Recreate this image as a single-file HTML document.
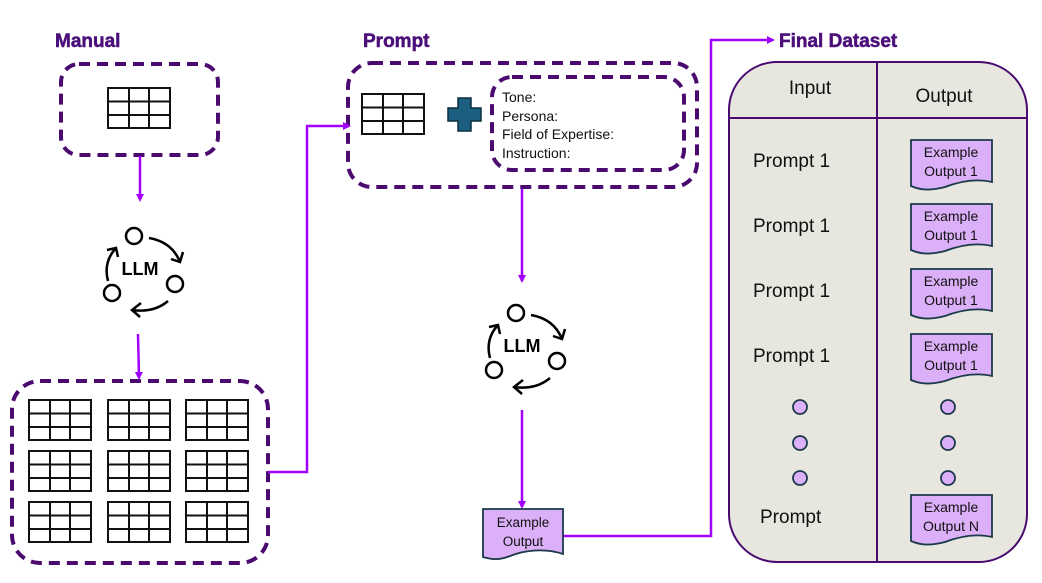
<!DOCTYPE html>
<html><head><meta charset="utf-8"><style>
html,body{margin:0;padding:0;background:#fff;}
svg{display:block;font-family:"Liberation Sans",sans-serif;}
</style></head><body>
<svg width="1042" height="583" viewBox="0 0 1042 583" xmlns="http://www.w3.org/2000/svg">
<defs>
<marker id="ah" markerWidth="8" markerHeight="8" refX="6" refY="4" orient="auto" markerUnits="userSpaceOnUse">
<path d="M0,0 L8,4 L0,8 Z" fill="#a100ff"/></marker>
<g id="tbl" fill="none" stroke="#111" stroke-width="2">
<rect x="0" y="0" width="62" height="40" fill="#fff"/>
<line x1="21" y1="0" x2="21" y2="40"/><line x1="41" y1="0" x2="41" y2="40"/>
<line x1="0" y1="13.5" x2="62" y2="13.5"/><line x1="0" y1="27" x2="62" y2="27"/>
</g>
<g id="llm" fill="none" stroke="#000" stroke-width="2.5">
<circle cx="-6" cy="-32" r="8"/><circle cx="35" cy="16" r="8"/><circle cx="-28" cy="25" r="8"/>
<path d="M9,-30 Q32,-26 40,-6"/><path d="M43,-16 L40,-6 L31,-9"/>
<path d="M28,33 Q14,45 -8,42"/><path d="M1,35 L-8,42 L0,49"/>
<path d="M-32,13 Q-37,-6 -24,-20"/><path d="M-33,-18 L-24,-20 L-22,-11"/>
<text x="0" y="7" text-anchor="middle" font-size="18" font-weight="bold" fill="#000" stroke="none">LLM</text>
</g>
</defs>

<g font-weight="bold" font-size="19" fill="#4b0f7a" stroke="#4b0f7a" stroke-width="0.5">
<text x="55" y="47">Manual</text>
<text x="363" y="47">Prompt</text>
<text x="779" y="47">Final Dataset</text>
</g>

<g fill="none" stroke="#4b0a70" stroke-width="4" stroke-dasharray="11,7">
<rect x="61" y="64" width="157" height="91" rx="18"/>
<rect x="12" y="381" width="256" height="182" rx="28"/>
<rect x="348" y="63" width="349" height="124" rx="24"/>
<rect x="492" y="77" width="192" height="93" rx="20"/>
</g>

<use href="#tbl" x="108" y="88"/>
<use href="#tbl" x="362" y="94"/>
<use href="#tbl" x="29" y="400"/><use href="#tbl" x="108" y="400"/><use href="#tbl" x="186" y="400"/>
<use href="#tbl" x="29" y="451"/><use href="#tbl" x="108" y="451"/><use href="#tbl" x="186" y="451"/>
<use href="#tbl" x="29" y="502"/><use href="#tbl" x="108" y="502"/><use href="#tbl" x="186" y="502"/>

<path d="M458,98 h13 v10 h10 v13 h-10 v10 h-13 v-10 h-10 v-13 h10 Z" fill="#1b5e80" stroke="#0d2f40" stroke-width="1.5"/>

<g font-size="14" fill="#111">
<text x="502" y="102">Tone:</text>
<text x="502" y="121">Persona:</text>
<text x="502" y="139">Field of Expertise:</text>
<text x="502" y="158">Instruction:</text>
</g>

<use href="#llm" x="140" y="268"/>
<use href="#llm" x="522" y="345"/>

<g fill="none" stroke="#a100ff" stroke-width="2.5">
<line x1="140" y1="156" x2="140" y2="200" marker-end="url(#ah)"/>
<line x1="138" y1="334" x2="139" y2="378" marker-end="url(#ah)"/>
<polyline points="268,472 307,472 307,126 349,126" marker-end="url(#ah)"/>
<line x1="522" y1="189" x2="522" y2="281" marker-end="url(#ah)"/>
<line x1="522" y1="410" x2="522" y2="507" marker-end="url(#ah)"/>
<polyline points="563,536 711,536 711,40 773,40" marker-end="url(#ah)"/>
</g>

<path d="M483,509 H563 V554 C545,548 525,550 510,556 C498,561 490,559 483,557 Z" fill="#dcb0f8" stroke="#1a3a4a" stroke-width="1.8"/>
<text x="523" y="527" text-anchor="middle" font-size="13.5" fill="#111">Example</text>
<text x="523" y="546" text-anchor="middle" font-size="13.5" fill="#111">Output</text>

<rect x="729" y="62" width="298" height="500" rx="48" fill="#e7e6df" stroke="#4b0a70" stroke-width="2"/>
<line x1="729" y1="118" x2="1027" y2="118" stroke="#4b0a70" stroke-width="2"/>
<line x1="877" y1="62" x2="877" y2="562" stroke="#4b0a70" stroke-width="2"/>
<g font-size="19" fill="#111">
<text x="810" y="94" text-anchor="middle">Input</text>
<text x="944" y="102" text-anchor="middle">Output</text>
<text x="753" y="167">Prompt 1</text>
<text x="753" y="232">Prompt 1</text>
<text x="753" y="297">Prompt 1</text>
<text x="753" y="362">Prompt 1</text>
<text x="760" y="523">Prompt</text>
</g>
<g fill="#dcb0f8" stroke="#1a3a4a" stroke-width="1.8">
<path d="M911,140 H992 V182 C975,178 958,182 945,187 C930,191 920,190 911,186 Z"/>
<path d="M911,204 H992 V246 C975,242 958,246 945,251 C930,255 920,254 911,250 Z"/>
<path d="M911,269 H992 V311 C975,307 958,311 945,316 C930,320 920,319 911,315 Z"/>
<path d="M911,334 H992 V376 C975,372 958,376 945,381 C930,385 920,384 911,380 Z"/>
<path d="M911,495 H992 V537 C975,533 958,537 945,542 C930,546 920,545 911,541 Z"/>
<circle cx="800" cy="407" r="7"/><circle cx="800" cy="443" r="7"/><circle cx="800" cy="478" r="7"/>
<circle cx="948" cy="407" r="7"/><circle cx="948" cy="443" r="7"/><circle cx="948" cy="478" r="7"/>
</g>
<g font-size="14" fill="#111" text-anchor="middle">
<text x="951" y="157">Example</text><text x="951" y="176">Output 1</text>
<text x="951" y="221">Example</text><text x="951" y="240">Output 1</text>
<text x="951" y="286">Example</text><text x="951" y="305">Output 1</text>
<text x="951" y="351">Example</text><text x="951" y="370">Output 1</text>
<text x="951" y="512">Example</text><text x="951" y="531">Output N</text>
</g>
</svg>
</body></html>
